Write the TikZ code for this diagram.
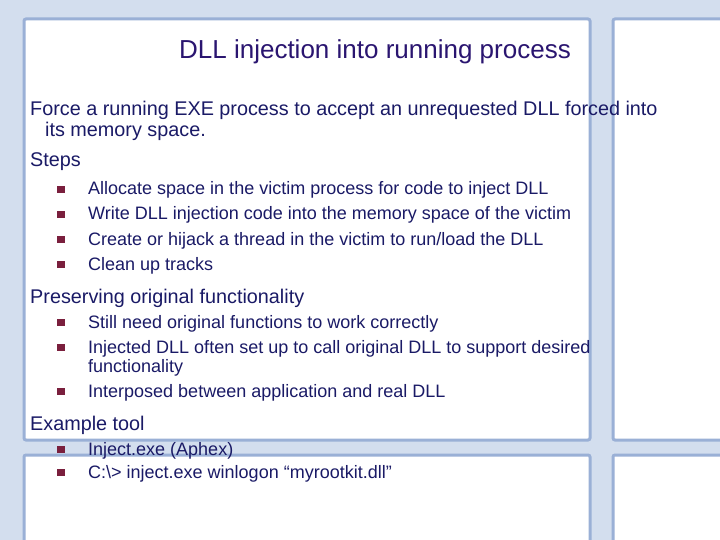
\documentclass[tikz,border=0pt]{standalone}
\usepackage{fontspec}
\setmainfont{Liberation Sans}
\definecolor{txt}{HTML}{1A1A66}
\definecolor{ttl}{HTML}{2A1570}
\definecolor{bul}{HTML}{7A1F3D}
\definecolor{fr}{HTML}{D3DEEE}
\definecolor{frd}{HTML}{9AB0D6}
\begin{document}
\begin{tikzpicture}[x=1pt,y=-1pt,
  pane/.style={fill=white,draw=frd,line width=3pt,rounded corners=2pt},
  l1/.style={anchor=base west,text=txt,font=\fontsize{19.8}{22}\selectfont,inner sep=0pt},
  l2/.style={anchor=base west,text=txt,font=\fontsize{18}{20}\selectfont,inner sep=0pt},
  bl/.style={fill=bul,minimum size=7.5pt,inner sep=0pt}]
\useasboundingbox (0,0) rectangle (720,540);
\fill[fr] (0,0) rectangle (720,540);
\draw[pane] (24,19) rectangle (590,440);
\draw[pane] (613,19) rectangle (740,440);
\draw[pane] (24,455) rectangle (590,560);
\draw[pane] (613,455) rectangle (740,560);
\node[anchor=base,text=ttl,font=\fontsize{26}{28}\selectfont,inner sep=0pt] (t) at (375,59) {DLL injection into running process};
\node[l1] (a) at (30,116) {Force a running EXE process to accept an unrequested DLL forced into};
\node[l1] (a2) at (45,137) {its memory space.};
\node[l1] (s) at (30,167) {Steps};
\foreach \y/\t [count=\i] in {195/{Allocate space in the victim process for code to inject DLL},
  220/{Write DLL injection code into the memory space of the victim},
  245/{Create or hijack a thread in the victim to run/load the DLL},
  270/{Clean up tracks}}{
  \node[bl] (sb\i) at (61,\y-5.5) {};
  \node[l2] (st\i) at (88,\y) {\t};}
\node[l1] (p) at (30,303) {Preserving original functionality};
\foreach \y/\t [count=\i] in {328/{Still need original functions to work correctly},
  353/{Injected DLL often set up to call original DLL to support desired},
  397/{Interposed between application and real DLL}}{
  \node[bl] (pb\i) at (61,\y-5.5) {};
  \node[l2] (pt\i) at (88,\y) {\t};}
\node[l2] (pf) at (88,372) {functionality};
\node[l1] (e) at (30,430) {Example tool};
\foreach \y/\t [count=\i] in {455/{Inject.exe (Aphex)},
  478/{C:\textbackslash> inject.exe winlogon “myrootkit.dll”}}{
  \node[bl] (eb\i) at (61,\y-5.5) {};
  \node[l2] (et\i) at (88,\y) {\t};}
\end{tikzpicture}
\end{document}
